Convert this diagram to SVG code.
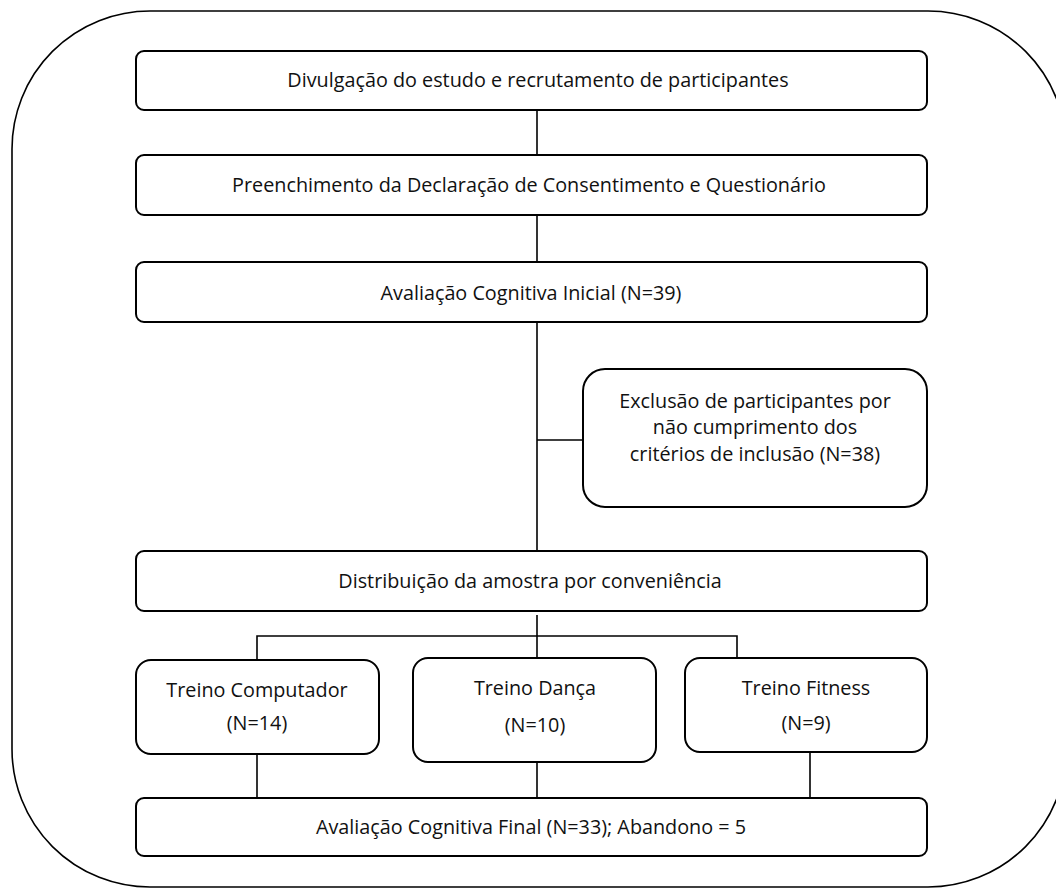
<svg xmlns="http://www.w3.org/2000/svg" width="1056" height="889" viewBox="0 0 1056 889">
<style>
.box{fill:#fff;stroke:#000;stroke-width:2}
.frame{fill:#fff;stroke:#000;stroke-width:1.6}
.ln{fill:none;stroke:#000;stroke-width:1.6}
text{font-family:"Open Sans","Liberation Sans",sans-serif;font-size:19.8px;fill:#111;text-anchor:middle}
</style>
<rect class="frame" x="12" y="11" width="1054" height="876" rx="138" ry="138"/>
<g id="connectors">
<line class="ln" x1="537" y1="110" x2="537" y2="155"/>
<line class="ln" x1="537" y1="215" x2="537" y2="262"/>
<line class="ln" x1="537" y1="322" x2="537" y2="551"/>
<line class="ln" x1="537" y1="440" x2="583" y2="440"/>
<line class="ln" x1="537" y1="615" x2="537" y2="658"/>
<polyline class="ln" points="257,660 257,636 737,636 737,658"/>
<line class="ln" x1="257" y1="754" x2="257" y2="798"/>
<line class="ln" x1="537" y1="762" x2="537" y2="798"/>
<line class="ln" x1="810" y1="752" x2="810" y2="798"/>
</g>
<g id="n1"><rect class="box" x="136" y="51" width="791" height="59" rx="8"/><text x="538" y="87">Divulgação do estudo e recrutamento de participantes</text></g>
<g id="n2"><rect class="box" x="136" y="155" width="791" height="60" rx="8"/><text x="529" y="192">Preenchimento da Declaração de Consentimento e Questionário</text></g>
<g id="n3"><rect class="box" x="136" y="262" width="791" height="60" rx="8"/><text x="531" y="300">Avaliação Cognitiva Inicial (N=39)</text></g>
<g id="n4"><rect class="box" x="583" y="369" width="344" height="138" rx="22"/><text x="755" y="408">Exclusão de participantes por</text><text x="755" y="434">não cumprimento dos</text><text x="755" y="461">critérios de inclusão (N=38)</text></g>
<g id="n5"><rect class="box" x="136" y="551" width="791" height="60" rx="8"/><text x="530" y="588">Distribuição da amostra por conveniência</text></g>
<g id="n6"><rect class="box" x="136" y="660" width="243" height="94" rx="15"/><text x="257" y="697">Treino Computador</text><text x="257" y="730">(N=14)</text></g>
<g id="n7"><rect class="box" x="413" y="658" width="243" height="104" rx="15"/><text x="535" y="695">Treino Dança</text><text x="535" y="732">(N=10)</text></g>
<g id="n8"><rect class="box" x="685" y="658" width="242" height="94" rx="15"/><text x="806" y="695">Treino Fitness</text><text x="806" y="730">(N=9)</text></g>
<g id="n9"><rect class="box" x="136" y="798" width="791" height="58" rx="8"/><text x="531" y="834">Avaliação Cognitiva Final (N=33); Abandono = 5</text></g>
</svg>
